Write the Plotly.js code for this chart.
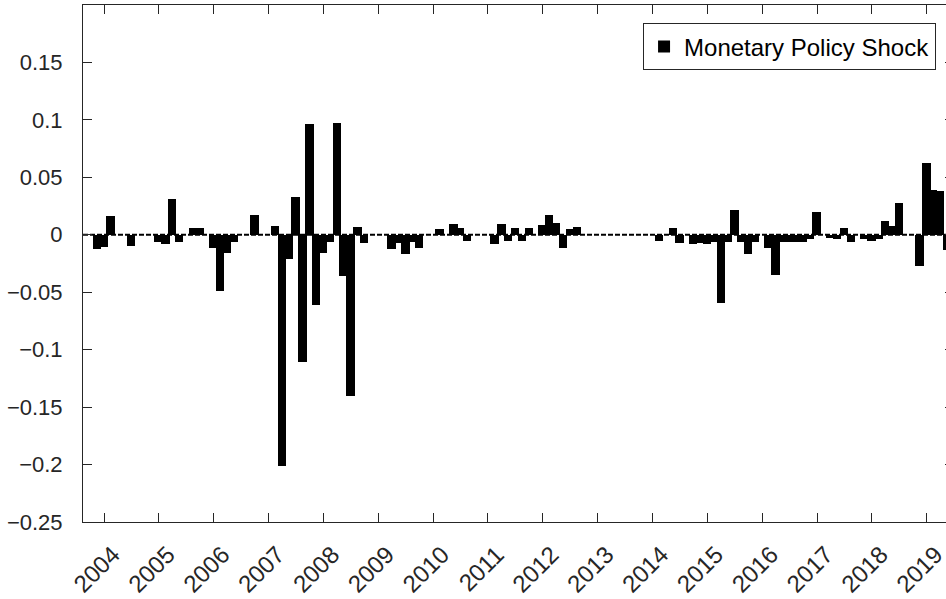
<!DOCTYPE html>
<html>
<head>
<meta charset="utf-8">
<script src="https://cdn.plot.ly/plotly-3.0.1.min.js"></script>
<style>
  html, body { margin: 0; padding: 0; background: #fff; overflow: hidden; }
  #chart { width: 960px; height: 599px; }
</style>
</head>
<body>
<div id="chart"></div>
<script>
// Time axis: eight evenly spaced policy dates per year (decimal years)
const firstPeriod = 2003.74375;
const periodStep = 0.125;

// Monetary policy shock series
const shock = [
  0, -0.012, -0.011, 0.0165, 0, 0, -0.010, 0,
  0, 0, -0.006, -0.008, 0.031, -0.0064, 0, 0.006,
  0.006, 0, -0.0116, -0.0487, -0.016, -0.0064, 0, 0,
  0.0168, 0, 0, 0.0078, -0.201, -0.0211, 0.0325, -0.111,
  0.0965, -0.0609, -0.016, -0.0067, 0.0977, -0.0362, -0.140, 0.0064,
  -0.0072, 0, 0, 0, -0.0122, -0.0072, -0.0168, -0.006,
  -0.0116, 0, 0, 0.0052, 0, 0.0096, 0.0058, -0.0052,
  0, 0, 0, -0.0081, 0.0096, -0.0058, 0.0058, -0.0058,
  0.0058, 0, 0.0087, 0.0168, 0.0101, -0.0116, 0.005, 0.0064,
  0, 0, 0, 0, 0, 0, 0, 0,
  0, 0, 0, -0.0058, 0, 0.0058, -0.0072, 0,
  -0.0078, -0.0075, -0.0078, -0.006, -0.059, -0.0064, 0.0217, -0.0067,
  -0.0168, -0.0064, 0, -0.0116, -0.0348, -0.0067, -0.0064, -0.0064,
  -0.006, -0.004, 0.0197, 0, -0.003, -0.004, 0.0055, -0.0064,
  0, -0.004, -0.0052, -0.004, 0.0116, 0.0078, 0.0275, 0,
  0, -0.027, 0.0629, 0.039, 0.038, -0.013
];

const yearTicks = [2004, 2005, 2006, 2007, 2008, 2009, 2010, 2011, 2012, 2013, 2014, 2015, 2016, 2017, 2018, 2019];
const yearLabels = yearTicks.map(String);
const yTickVals = [-0.25, -0.2, -0.15, -0.1, -0.05, 0, 0.05, 0.1, 0.15];
const yTickText = ['\u22120.25', '\u22120.2', '\u22120.15', '\u22120.1', '\u22120.05', '0', '0.05', '0.1', '0.15'];
const seriesName = 'Monetary Policy Shock';

const dates = shock.map((_, i) => firstPeriod + i * periodStep);

const axisColor = '#262626';
const fontFamily = '"Liberation Sans", Arial, Helvetica, sans-serif';

const trace = {
  type: 'bar',
  x: dates,
  y: shock,
  width: 0.153,
  name: seriesName,
  marker: { color: '#000000', line: { width: 0 } },
  showlegend: true
};

const layout = {
  width: 960,
  height: 599,
  margin: { l: 83, r: 6, t: 5, b: 77 },
  paper_bgcolor: '#ffffff',
  plot_bgcolor: '#ffffff',
  font: { family: fontFamily, color: axisColor, size: 22 },
  bargap: 0,
  xaxis: {
    range: [2003.617, 2019.4975],
    tickmode: 'array',
    tickvals: yearTicks,
    ticktext: yearLabels,
    tickangle: -45,
    ticks: 'inside',
    ticklen: 9,
    tickwidth: 1,
    tickcolor: axisColor,
    showline: true,
    linecolor: axisColor,
    linewidth: 1,
    mirror: 'ticks',
    showgrid: false,
    zeroline: false,
    ticklabelshift: 9,
    ticklabelstandoff: 8,
    tickfont: { family: fontFamily, size: 24, color: axisColor }
  },
  yaxis: {
    range: [-0.25, 0.2],
    tickmode: 'array',
    tickvals: yTickVals,
    ticktext: yTickText,
    ticks: 'inside',
    ticklen: 9,
    tickwidth: 1,
    tickcolor: axisColor,
    showline: true,
    linecolor: axisColor,
    linewidth: 1,
    mirror: 'ticks',
    showgrid: false,
    zeroline: false,
    ticklabelstandoff: 15,
    tickfont: { family: fontFamily, size: 22, color: axisColor }
  },
  shapes: [{
    type: 'line', xref: 'paper', yref: 'y',
    x0: 0, x1: 1, y0: 0, y1: 0,
    line: { color: '#000000', width: 2, dash: '5px,2px' },
    layer: 'below'
  }],
  legend: {
    x: 0.643, y: 0.9646, xanchor: 'left', yanchor: 'top',
    bgcolor: '#ffffff',
    bordercolor: axisColor,
    borderwidth: 1,
    font: { family: fontFamily, size: 24, color: '#000000' }
  },
  showlegend: true
};

Plotly.newPlot('chart', [trace], layout, { displayModeBar: false, staticPlot: true });
</script>
</body>
</html>
